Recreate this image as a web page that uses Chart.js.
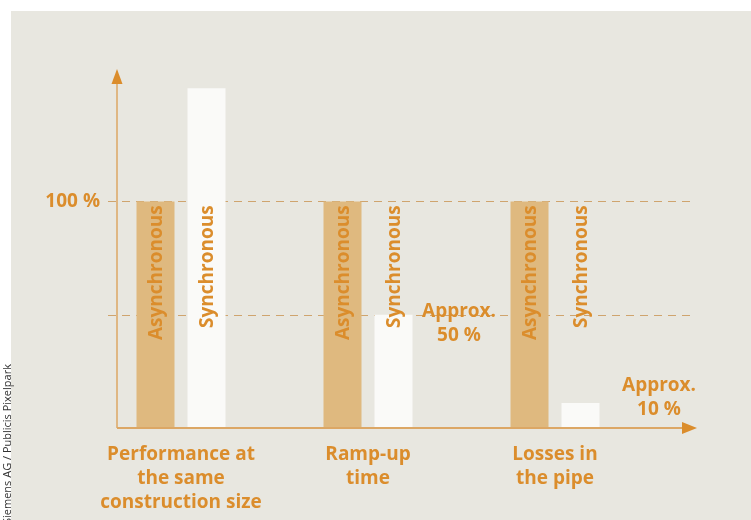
<!DOCTYPE html>
<html>
<head>
<meta charset="utf-8">
<script src="https://cdn.jsdelivr.net/npm/chart.js@4"></script>
<style>
  html, body { margin: 0; padding: 0; background: #ffffff; }
  #wrap { position: relative; width: 751px; height: 520px; overflow: hidden; }
  #panel { position: absolute; left: 11px; top: 11px; right: 0; bottom: 0; background: #e8e7e0; }
  canvas { position: absolute; left: 0; top: 0; }
</style>
</head>
<body>
<div id="wrap">
  <div id="panel"></div>
  <canvas id="chart" width="751" height="520"></canvas>
</div>
<script>
// data (percent of the asynchronous machine)
const categories = [
    ['Performance at', 'the same', 'construction size'],
    ['Ramp-up', 'time'],
    ['Losses in', 'the pipe']
];
const seriesNames = ['Asynchronous', 'Synchronous'];
const asyncValues = [100, 100, 100];
const syncValues = [150, 50, 11];
const gridValues = [50, 100];
const tickLabels = ['100 %'];
const notes = [['Approx.', '50 %'], ['Approx.', '10 %']];

const ORANGE = '#db8d2c';
const FONT = '"Open Sans", "Noto Sans", sans-serif';
const SIZE = 19;

function arrow(ctx, tipX, tipY, dir) {
    ctx.beginPath();
    if (dir === 'up') {
        ctx.moveTo(tipX, tipY);
        ctx.lineTo(tipX - 5.5, tipY + 15);
        ctx.lineTo(tipX + 5.5, tipY + 15);
    } else {
        ctx.moveTo(tipX, tipY);
        ctx.lineTo(tipX - 15, tipY - 6);
        ctx.lineTo(tipX - 15, tipY + 6);
    }
    ctx.closePath();
    ctx.fill();
}

const decorations = {
    id: 'decorations',
    beforeDatasetsDraw(chart) {
        const ctx = chart.ctx;
        const y = chart.scales.y;
        ctx.save();
        // dashed reference lines
        ctx.strokeStyle = '#cfa46e';
        ctx.lineWidth = 1;
        ctx.setLineDash([8, 6]);
        gridValues.forEach(v => {
            const py = Math.round(y.getPixelForValue(v)) + 0.5;
            ctx.beginPath();
            ctx.moveTo(108, py);
            ctx.lineTo(695, py);
            ctx.stroke();
        });
        ctx.restore();
    },
    afterDatasetsDraw(chart) {
        const ctx = chart.ctx;
        const y = chart.scales.y;
        const area = chart.chartArea;
        const originX = 117;
        ctx.save();

        // axes with arrow heads
        ctx.strokeStyle = '#dca765';
        ctx.lineWidth = 1.5;
        ctx.beginPath();
        ctx.moveTo(originX, area.bottom);
        ctx.lineTo(originX, 84);
        ctx.stroke();
        ctx.lineWidth = 2;
        ctx.beginPath();
        ctx.moveTo(originX, area.bottom);
        ctx.lineTo(684, area.bottom);
        ctx.stroke();
        ctx.fillStyle = ORANGE;
        arrow(ctx, originX, 69, 'up');
        arrow(ctx, 697, area.bottom, 'right');

        // y tick label
        ctx.font = 'bold ' + SIZE + 'px ' + FONT;
        ctx.textAlign = 'right';
        ctx.textBaseline = 'middle';
        ctx.fillText(tickLabels[0], 100, y.getPixelForValue(100));

        // rotated series names on each bar
        const top = y.getPixelForValue(100) + 4;
        chart.data.datasets.forEach((ds, i) => {
            chart.getDatasetMeta(i).data.forEach(bar => {
                ctx.save();
                ctx.translate(bar.x, top);
                ctx.rotate(-Math.PI / 2);
                ctx.textAlign = 'right';
                ctx.textBaseline = 'middle';
                ctx.fillText(ds.label, 0, 1);
                ctx.restore();
            });
        });

        // approx notes
        ctx.textAlign = 'center';
        const n1y = y.getPixelForValue(50) - 3;
        ctx.fillText(notes[0][0], 459, n1y);
        ctx.fillText(notes[0][1], 459, n1y + 24);
        ctx.fillText(notes[1][0], 659, 386);
        ctx.fillText(notes[1][1], 659, 410);

        // photo credit
        ctx.fillStyle = '#333333';
        ctx.font = '11px ' + FONT;
        ctx.translate(8, 524);
        ctx.rotate(-Math.PI / 2);
        ctx.textAlign = 'left';
        ctx.fillText('Siemens AG / Publicis Pixelpark', 0, 0);
        ctx.restore();
    }
};

new Chart(document.getElementById('chart'), {
    type: 'bar',
    data: {
        labels: categories,
        datasets: [
            {
                label: seriesNames[0],
                data: asyncValues,
                backgroundColor: '#dfb97f',
                categoryPercentage: 0.5455,
                barPercentage: 0.745
            },
            {
                label: seriesNames[1],
                data: syncValues,
                backgroundColor: '#fafaf8',
                categoryPercentage: 0.5455,
                barPercentage: 0.745
            }
        ]
    },
    options: {
        responsive: false,
        animation: false,
        devicePixelRatio: 1,
        layout: { padding: { left: 87.5, right: 102.5, top: 70, bottom: 0 } },
        plugins: {
            legend: { display: false },
            tooltip: { enabled: false }
        },
        scales: {
            x: {
                grid: { display: false, drawTicks: false },
                border: { display: false },
                afterFit(scale) { scale.height = 92; },
                ticks: {
                    color: ORANGE,
                    font: { family: FONT, size: SIZE, weight: 'bold', lineHeight: 24 / SIZE },
                    padding: 15,
                    maxRotation: 0,
                    autoSkip: false
                }
            },
            y: {
                display: false,
                min: 0,
                max: 158
            }
        }
    },
    plugins: [decorations]
});
</script>
</body>
</html>
